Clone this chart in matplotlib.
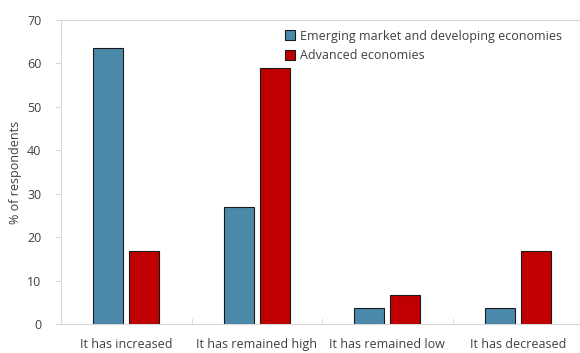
import numpy as np
import matplotlib
matplotlib.use("Agg")
import matplotlib.pyplot as plt

# ========== DATA ==========
categories = ["It has increased", "It has remained high", "It has remained low", "It has decreased"]
emerging = [63.6, 27.0, 3.6, 3.6]
advanced = [16.8, 58.9, 6.7, 16.8]
series_names = ["Emerging market and developing economies", "Advanced economies"]
# ==========================

BLUE = "#4a89aa"
RED = "#c00000"
GRID = "#d9d9d9"
TEXT = "#404040"

plt.rcParams["font.family"] = ["Open Sans", "DejaVu Sans"]

fig = plt.figure(figsize=(5.8, 3.53), dpi=100)
ax = fig.add_axes([61 / 580, 29 / 353, 522 / 580, 304 / 353])

x = np.arange(len(categories))
w = 0.23
off = 0.137
ax.bar(x - off, emerging, w, color=BLUE, edgecolor="#1a1a1a", linewidth=0.8, label=series_names[0])
ax.bar(x + off, advanced, w, color=RED, edgecolor="#1a1a1a", linewidth=0.8, label=series_names[1])

ax.set_xlim(-0.5, 3.485)
ax.set_ylim(0, 70)
ax.set_yticks(range(0, 71, 10))
ax.set_xticks(x)
ax.set_xticklabels(categories)
ax.set_xticks(np.arange(-0.5, 3.6, 1), minor=True)
ax.tick_params(axis="x", which="major", length=0, pad=10, labelsize=9, labelcolor=TEXT)
ax.tick_params(axis="x", which="minor", length=4, color=GRID, direction="in")
ax.tick_params(axis="y", length=4, color=GRID, direction="out", labelsize=9, labelcolor=TEXT, pad=10)

for s in ax.spines.values():
    s.set_color(GRID)
    s.set_linewidth(0.8)

ax.set_ylabel("% of respondents", fontsize=9, color=TEXT, labelpad=4)

leg = ax.legend(loc="upper left", bbox_to_anchor=(0.42, 0.985), frameon=False,
                fontsize=9, handlelength=0.8, handleheight=0.8, handletextpad=0.4,
                labelspacing=0.55, borderaxespad=0)
for t in leg.get_texts():
    t.set_color(TEXT)

fig.savefig("out.png", dpi=100)
